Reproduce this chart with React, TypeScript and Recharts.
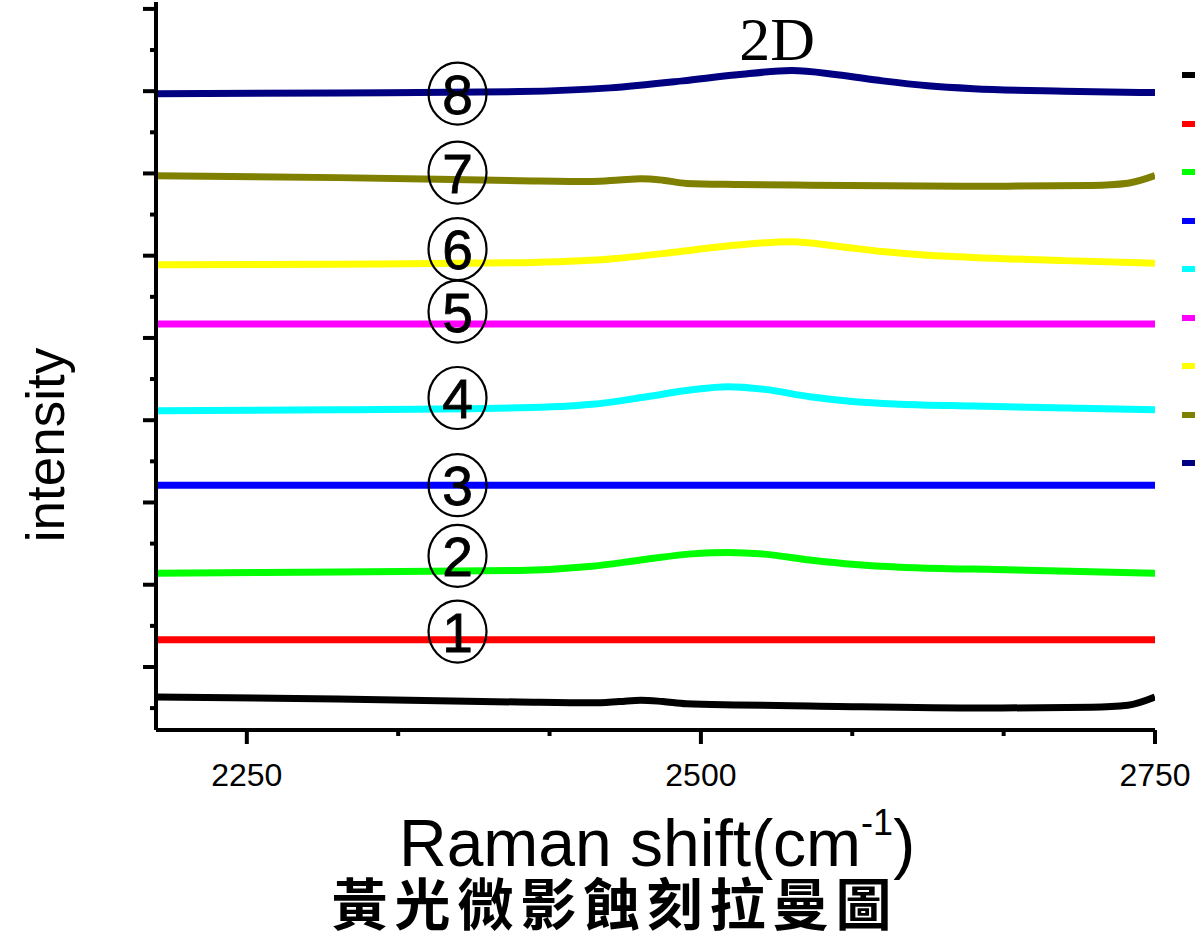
import React from "react";
import { Line, LineChart, ReferenceDot, XAxis, YAxis } from "recharts";

// Raman shift (cm-1) / intensity (a.u., offset per sample)
const blackShift = [2200, 2300, 2400, 2440, 2455, 2467, 2479, 2492, 2520, 2560, 2656, 2715, 2735, 2750];
const blackIntensity = [-36.5, -38.9, -42.6, -43.6, -42, -40.3, -42, -44.8, -46.2, -47.4, -49.9, -48.9, -46.5, -36.5];

const redShift = [2200, 2475, 2750];
const redIntensity = [33, 33, 33];

const greenShift = [2200, 2300, 2400, 2440, 2470, 2495, 2515, 2535, 2560, 2585, 2610, 2650, 2750];
const greenIntensity = [114, 115.6, 117.4, 122.4, 131, 137.5, 139.3, 137.2, 130, 124.5, 121.2, 119, 114];

const blueShift = [2200, 2475, 2750];
const blueIntensity = [221, 221, 221];

const cyanShift = [2200, 2300, 2400, 2440, 2470, 2495, 2515, 2535, 2560, 2585, 2610, 2650, 2750];
const cyanIntensity = [311.4, 312.6, 315, 319.3, 328.5, 337, 340.6, 337.5, 328.5, 322.5, 319.5, 317.2, 312.6];

const magentaShift = [2200, 2475, 2750];
const magentaIntensity = [417, 417, 417];

const yellowShift = [2200, 2300, 2400, 2450, 2490, 2520, 2550, 2575, 2600, 2625, 2650, 2700, 2750];
const yellowIntensity = [489, 489.6, 491.5, 496, 505.5, 513, 517, 511.5, 505, 500.5, 497.8, 494, 490.8];

const oliveShift = [2200, 2300, 2400, 2440, 2455, 2467, 2479, 2492, 2520, 2560, 2656, 2715, 2735, 2750];
const oliveIntensity = [597.3, 594.9, 591.2, 590.2, 592, 593.6, 591.8, 587.9, 586.6, 585.7, 584.5, 585.3, 588, 597.3];

const navyShift = [2200, 2300, 2400, 2450, 2490, 2520, 2550, 2575, 2600, 2625, 2650, 2700, 2750];
const navyIntensity = [697, 697.7, 699.5, 704, 712.5, 720, 725, 720, 712.5, 706.5, 703, 700, 698.3];

const xTicks = [2250, 2333.33, 2416.67, 2500, 2583.33, 2666.67, 2750];
const xMajor = [2250, 2500, 2750];
const yTicks = [-50, 0, 50, 100, 150, 200, 250, 300, 350, 400, 450, 500, 550, 600, 650, 700, 750, 800];

const sampleLabels = ["1", "2", "3", "4", "5", "6", "7", "8"];
const sampleLabelY = [43, 135, 221, 327, 432, 508, 601, 697];
const labelShift = 2366;

const zip = (xs: number[], ys: number[]) => xs.map((x, i) => ({ x, y: ys[i] }));

const series = [
  { name: "0", color: "#000000", data: zip(blackShift, blackIntensity) },
  { name: "1", color: "#ff0000", data: zip(redShift, redIntensity) },
  { name: "2", color: "#00ff00", data: zip(greenShift, greenIntensity) },
  { name: "3", color: "#0000ff", data: zip(blueShift, blueIntensity) },
  { name: "4", color: "#00ffff", data: zip(cyanShift, cyanIntensity) },
  { name: "5", color: "#ff00ff", data: zip(magentaShift, magentaIntensity) },
  { name: "6", color: "#ffff00", data: zip(yellowShift, yellowIntensity) },
  { name: "7", color: "#808000", data: zip(oliveShift, oliveIntensity) },
  { name: "8", color: "#000080", data: zip(navyShift, navyIntensity) },
];

const PLOT_LEFT = 156;
const PLOT_BOTTOM = 730;
const sans = "'Liberation Sans', Arial, sans-serif";

const YTick = (props: any) => {
  const { y, payload } = props;
  const len = payload.value % 100 === 0 ? 13 : 6;
  return <line x1={PLOT_LEFT - len} x2={PLOT_LEFT} y1={y} y2={y} stroke="#000" strokeWidth={4} />;
};

const XTick = (props: any) => {
  const { x, payload } = props;
  const major = xMajor.includes(payload.value);
  return (
    <g>
      <line x1={x} x2={x} y1={PLOT_BOTTOM} y2={PLOT_BOTTOM + (major ? 14 : 6)} stroke="#000" strokeWidth={4} />
      {major && (
        <text x={x} y={786} textAnchor="middle" fontSize={32} fontFamily={sans} fill="#000">
          {payload.value}
        </text>
      )}
    </g>
  );
};

const circled = (text: string) => (props: any) => {
  const { cx, cy } = props;
  return (
    <g>
      <ellipse cx={cx} cy={cy} rx={29} ry={31} fill="none" stroke="#000" strokeWidth={2.2} />
      <text x={cx} y={cy + 20} textAnchor="middle" fontSize={55} fontFamily={sans} stroke="#000" strokeWidth={0.8} fill="#000">
        {text}
      </text>
    </g>
  );
};

const peakLabel = (props: any) => (
  <text x={props.cx} y={props.cy} textAnchor="middle" fontSize={62} fontFamily="'Liberation Serif', 'Times New Roman', serif" fill="#000">
    2D
  </text>
);

export default function App() {
  return (
    <div style={{ position: "absolute", left: 0, top: 0, width: 1195, height: 931, background: "#fff", overflow: "hidden" }}>
      <LineChart width={1195} height={931} margin={{ top: 2, right: 40, left: 136, bottom: 141 }}>
        <XAxis
          dataKey="x"
          type="number"
          domain={[2200, 2750]}
          allowDataOverflow
          ticks={xTicks}
          interval={0}
          tick={<XTick />}
          tickLine={false}
          axisLine={{ stroke: "#000", strokeWidth: 4 }}
          height={60}
        />
        <XAxis xAxisId="top" orientation="top" type="number" domain={[2200, 2750]} tick={false} tickLine={false} axisLine={{ stroke: "#000", strokeWidth: 3 }} height={0} />
        <YAxis
          type="number"
          domain={[-76.6, 808.4]}
          allowDataOverflow
          ticks={yTicks}
          interval={0}
          tick={<YTick />}
          tickLine={false}
          axisLine={{ stroke: "#000", strokeWidth: 4 }}
          width={20}
        />
        <YAxis yAxisId="right" orientation="right" type="number" domain={[-76.6, 808.4]} tick={false} tickLine={false} axisLine={{ stroke: "#000", strokeWidth: 4 }} width={0} />
        {series.map((s) => (
          <Line
            key={s.name}
            data={s.data}
            dataKey="y"
            name={s.name}
            type="monotone"
            stroke={s.color}
            strokeWidth={7}
            strokeLinejoin="round"
            dot={false}
            activeDot={false}
            isAnimationActive={false}
          />
        ))}
        {sampleLabels.map((t, i) => (
          <ReferenceDot key={t} x={labelShift} y={sampleLabelY[i]} r={30} ifOverflow="visible" shape={circled(t)} />
        ))}
        <ReferenceDot x={2542} y={738} r={1} ifOverflow="visible" shape={peakLabel} />
      </LineChart>

      {series.map((s, i) => (
        <div
          key={s.name}
          style={{ position: "absolute", left: 1182, top: 72 + i * 48.5, width: 20, height: 6, background: s.color }}
        />
      ))}

      <svg width={1195} height={931} style={{ position: "absolute", left: 0, top: 0, pointerEvents: "none" }}>
        <text x={0} y={0} transform="translate(64 445) rotate(-90)" textAnchor="middle" fontSize={53} fontFamily={sans} fill="#000">
          intensity
        </text>
        <text x={399} y={866} fontSize={66} fontFamily={sans} fill="#000">
          Raman shift(cm
          <tspan fontSize={36} dy={-31}>-1</tspan>
          <tspan dy={31}>)</tspan>
        </text>
        <text x={615} y={925} textAnchor="middle" fontSize={56} fontWeight={700} letterSpacing={7} fontFamily="'Noto Sans CJK TC', 'Noto Sans CJK SC', sans-serif" fill="#000">
          黃光微影蝕刻拉曼圖
        </text>
      </svg>
    </div>
  );
}
